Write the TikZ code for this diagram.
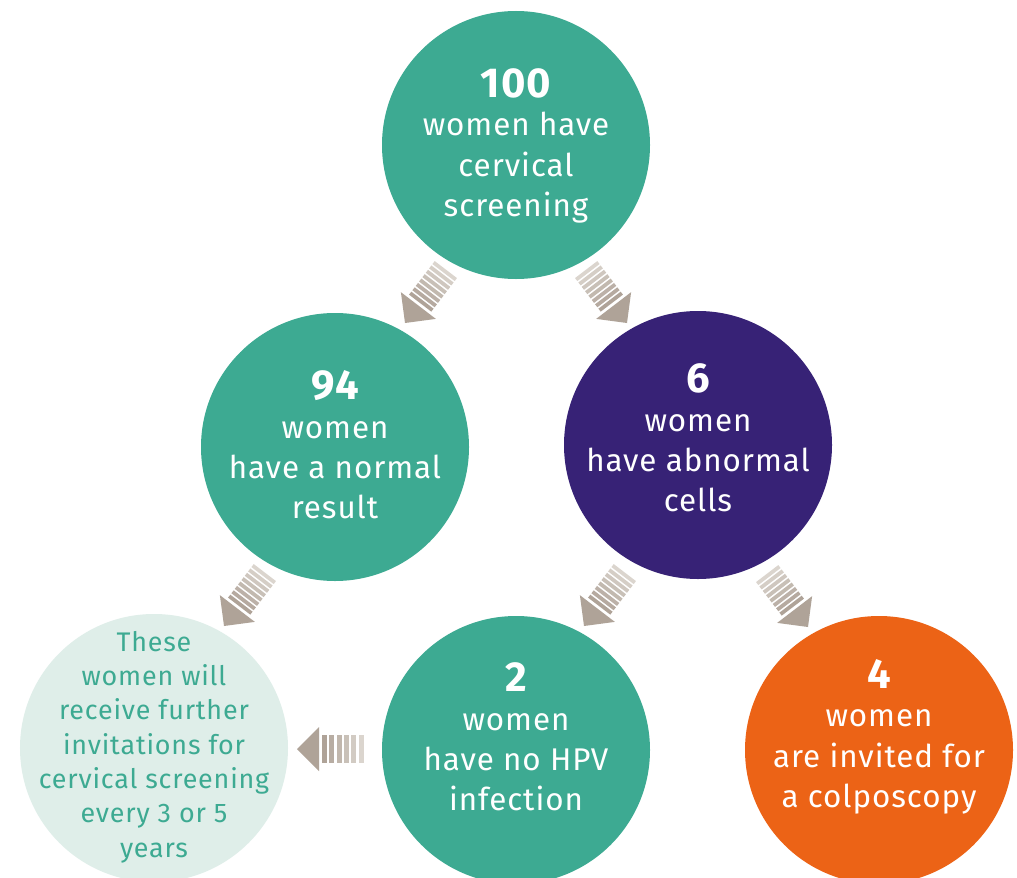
\documentclass[tikz,border=0pt]{standalone}
\usepackage{fontspec}
\setmainfont{Fira Sans}[LetterSpace=3]
\definecolor{cteal}{HTML}{3DAA92}
\definecolor{cpurple}{HTML}{372276}
\definecolor{corange}{HTML}{EC6316}
\definecolor{clight}{HTML}{DFEEE9}
\definecolor{arrowdark}{HTML}{AFA398}
\definecolor{arrowlight}{HTML}{E6E1DB}
\newcommand{\bignum}[1]{{\fontsize{42}{44}\selectfont\bfseries #1}}
\tikzset{
  circ/.style={circle, minimum size=268bp, inner sep=0pt},
  label/.style={align=center, text=white, font=\fontsize{31.5}{40.5}\selectfont},
  sarrow/.pic={
    \fill[arrowdark] (0,0) -- (-22,22) -- (-22,-22) -- cycle;
    \pgfmathsetmacro\p{44/#1}
    \foreach \i in {1,...,#1}{
      \pgfmathtruncatemacro\cc{100-(\i-1)*80/(#1-1)}
      \fill[arrowdark!\cc!arrowlight] ({-25-(\i-1)*\p},-14) rectangle ++({-0.68*\p},28);
    }
  }
}
\begin{document}
\begin{tikzpicture}[x=1bp,y=1bp]
\useasboundingbox (0,0) rectangle (1017,-878);
\fill[white] (0,0) rectangle (1017,-878);
\node[circ, fill=cteal] (top) at (516,-145) {};
\node[label] (toptext) at (516,-146) {\bignum{100}\\[-2pt]women have\\cervical\\screening};
\node[circ, fill=cteal] (normal) at (335,-447) {};
\node[label] (normaltext) at (335,-445) {\bignum{94}\\[-2pt]women\\have a normal\\result};
\node[circ, fill=cpurple] (abn) at (698,-445) {};
\node[label] (abntext) at (698,-438) {\bignum{6}\\[-2pt]women\\have abnormal\\cells};
\node[circ, fill=cteal] (nohpv) at (516,-750) {};
\node[label] (nohpvtext) at (516,-737) {\bignum{2}\\[-2pt]women\\have no HPV\\infection};
\node[circ, fill=corange] (colpo) at (879,-750) {};
\node[label] (colpotext) at (879,-737) {\bignum{4}\\[-2pt]women\\are invited for\\a colposcopy};
\node[circ, fill=clight] (further) at (154,-748) {};
\node[align=center, text=cteal, font=\fontsize{27}{34.5}\selectfont] (furthertext) at (154,-747) {These\\women will\\receive further\\invitations for\\cervical screening\\every 3 or 5\\years};
\pic[rotate=232.6] at (405,-323) {sarrow=8};
\pic[rotate=307.4] at (627,-323) {sarrow=8};
\pic[rotate=232.6] at (224,-626) {sarrow=8};
\pic[rotate=232.6] at (584,-626) {sarrow=8};
\pic[rotate=307.4] at (808,-627) {sarrow=8};
\pic[rotate=180] at (297,-749) {sarrow=6};
\end{tikzpicture}
\end{document}
